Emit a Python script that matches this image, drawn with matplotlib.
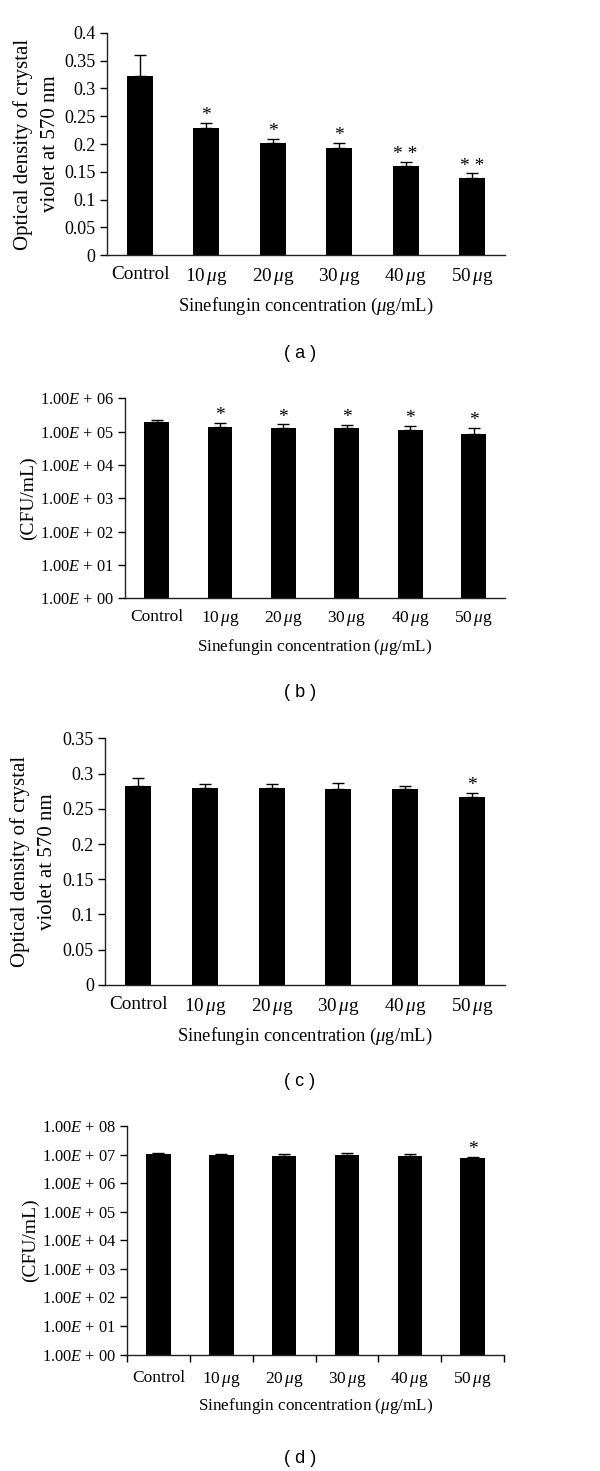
import numpy as np
import matplotlib
matplotlib.use("Agg")
import matplotlib.pyplot as plt
from matplotlib.ticker import FixedLocator, FixedFormatter, NullLocator

plt.rcParams['font.family'] = ['Liberation Serif', 'DejaVu Serif']
plt.rcParams['mathtext.fontset'] = 'custom'
plt.rcParams['mathtext.rm'] = 'Liberation Serif'
plt.rcParams['mathtext.it'] = 'Liberation Serif:italic'

# data
groups = ["Control", r"10$\,\mathit{\mu}$g", r"20$\,\mathit{\mu}$g", r"30$\,\mathit{\mu}$g",
          r"40$\,\mathit{\mu}$g", r"50$\,\mathit{\mu}$g"]

od_a = [0.322, 0.228, 0.202, 0.192, 0.160, 0.138]
od_a_err = [0.038, 0.010, 0.007, 0.010, 0.008, 0.009]
stars_a = ["", "*", "*", "*", "* *", "* *"]

cfu_b = [2.0e5, 1.41e5, 1.32e5, 1.26e5, 1.15e5, 8.7e4]
cfu_b_err = [0.19e5, 0.41e5, 0.34e5, 0.32e5, 0.33e5, 0.45e5]
stars_b = ["", "*", "*", "*", "*", "*"]

od_c = [0.283, 0.280, 0.280, 0.278, 0.2775, 0.267]
od_c_err = [0.010, 0.0057, 0.005, 0.009, 0.0045, 0.0055]
stars_c = ["", "", "", "", "", "*"]

cfu_d = [1.02e7, 1.0e7, 8.9e6, 9.4e6, 8.7e6, 7.4e6]
cfu_d_err = [0.15e7, 0.05e7, 0.16e7, 0.18e7, 0.15e7, 0.08e7]
stars_d = ["", "", "", "", "", "*"]

xlabel = r"Sinefungin concentration ($\mathit{\mu}$g/mL)"
od_label = "Optical density of crystal\nviolet at 570 nm"
cfu_label = "(CFU/mL)"

fig = plt.figure(figsize=(6, 14.71), dpi=100)

# axes rectangles [left, bottom, width, height]
rects = {
    "a": [0.178, 0.8266, 0.664, 0.151],
    "b": [0.2083, 0.5933, 0.6337, 0.1359],
    "c": [0.175, 0.3304, 0.667, 0.1677],
    "d": [0.2117, 0.0791, 0.6283, 0.1554],
}
captions = {"a": 0.760, "b": 0.529, "c": 0.2645, "d": 0.0085}
ylabel_x = {"a": -0.118, "c": -0.12}


def draw_panel(key, vals, errs, stars, ylabel, log=False, top=None, step=None):
    ax = fig.add_axes(rects[key])
    x = np.arange(len(groups))
    vals = np.array(vals)
    errs = np.array(errs)
    ax.bar(x, vals, width=0.39, color='black', zorder=2)
    ax.errorbar(x, vals, yerr=[np.zeros_like(errs), errs], fmt='none',
                ecolor='black', elinewidth=1.0, capsize=4.5, capthick=1.0, zorder=3)
    for xi, v, e, s in zip(x, vals, errs, stars):
        if s:
            ax.annotate(s, (xi, v + e), xytext=(0, -1), textcoords='offset points',
                        ha='center', va='bottom', fontsize=14)
    ax.set_xlim(-0.5, len(groups) - 0.5)
    if log:
        ax.set_yscale('log')
        ax.set_ylim(1, 10 ** top)
        ticks = [10.0 ** k for k in range(top + 1)]
        ax.yaxis.set_major_locator(FixedLocator(ticks))
        ax.yaxis.set_major_formatter(FixedFormatter(
            [r"1.00$\mathit{E}$ + %02d" % k for k in range(top + 1)]))
        ax.yaxis.set_minor_locator(NullLocator())
        ax.tick_params(axis='y', labelsize=11.8)
        ax.set_ylabel(ylabel, fontsize=14, labelpad=2)
        xt_size = 12.5
        xl_size = 12.3
    else:
        ax.set_ylim(0, top)
        ticks = np.round(np.arange(0, top + step / 2, step), 2)
        ax.set_yticks(ticks)
        ax.set_yticklabels(["%g" % t for t in ticks])
        ax.tick_params(axis='y', labelsize=13)
        ax.set_ylabel(ylabel, fontsize=15, linespacing=1.55)
        ax.yaxis.set_label_coords(ylabel_x[key], 0.5)
        xt_size = 13.8
        xl_size = 13.4
    ax.set_xticks(x)
    ax.set_xticklabels(groups, fontsize=xt_size)
    if key == "d":
        ax.set_xticks(np.arange(-0.5, len(groups)), minor=True)
        ax.tick_params(axis='x', which='minor', length=5, width=1, direction='out')
        ax.tick_params(axis='x', which='major', length=0, pad=11)
        ax.set_xlabel(xlabel, fontsize=xl_size, labelpad=5)
    else:
        ax.tick_params(axis='x', which='major', length=0, pad=8)
        ax.set_xlabel(xlabel, fontsize=xl_size, labelpad=6)
    ax.tick_params(axis='y', length=5, width=1, direction='out', pad=3)
    for side in ['top', 'right']:
        ax.spines[side].set_visible(False)
    for side in ['left', 'bottom']:
        ax.spines[side].set_linewidth(1.0)
        ax.spines[side].set_color('#222222')
    fig.text(0.5, captions[key], "( %s )" % key, ha='center', va='center',
             fontsize=13, family='Liberation Sans')
    return ax


draw_panel("a", od_a, od_a_err, stars_a, od_label, top=0.4, step=0.05)
draw_panel("b", cfu_b, cfu_b_err, stars_b, cfu_label, log=True, top=6)
draw_panel("c", od_c, od_c_err, stars_c, od_label, top=0.35, step=0.05)
draw_panel("d", cfu_d, cfu_d_err, stars_d, cfu_label, log=True, top=8)

fig.savefig("out.png", dpi=100)
